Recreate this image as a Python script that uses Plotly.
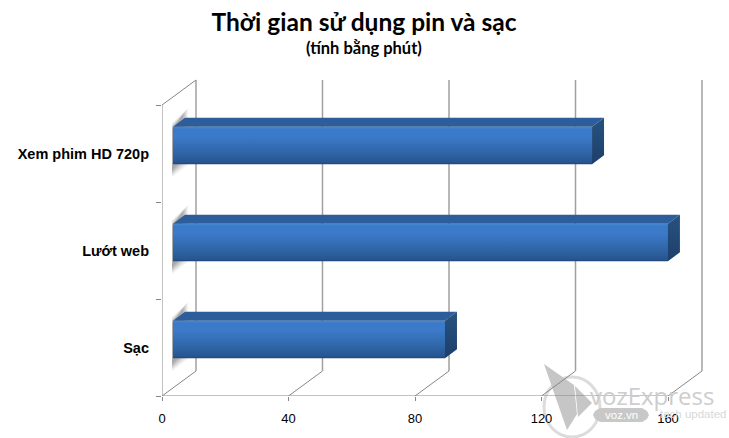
import plotly.graph_objects as go

categories = ["Sạc", "Lướt web", "Xem phim HD 720p"]
values = [86, 156.5, 132.5]
x_ticks = [0, 40, 80, 120, 160]

TITLE = "Thời gian sử dụng pin và sạc"
SUBTITLE = "(tính bằng phút)"

# frame in pixels
W, H = 729, 438
L, R, T, B = 162, 668, 105, 396
R_AREA, T_AREA = 729, 60  # plot area is larger than the frame so the 3D depth fits inside it
PX_X = (R - L) / 160
PX_Y = (B - T) / 3
GRID = "#a0a0a0"
AXIS = "#868686"


def ux(px):
    return px / PX_X


def uy(px):
    return px / PX_Y


def sx(px):
    return (px - L) / (R_AREA - L)


def sy(px):
    return (B - px) / (B - T_AREA)


WALL_DX, WALL_DY = ux(34), uy(25)
FRONT_DX, FRONT_DY = ux(11), uy(8)
TOP_DX, TOP_DY = ux(12), uy(9)
BAR_H = uy(37.5)
y_pos = list(range(len(categories)))
y_lo, y_hi = -0.5, len(categories) - 0.5

fig = go.Figure()


def line(xs, ys, color=GRID, width=1.5):
    fig.add_trace(go.Scatter(x=xs, y=ys, mode="lines", hoverinfo="skip", showlegend=False,
                             line=dict(color=color, width=width)))


# walls, floor and back grid
for t in x_ticks:
    line([t, t + WALL_DX], [y_lo, y_lo + WALL_DY], AXIS, 1)
    line([t + WALL_DX] * 2, [y_lo + WALL_DY, y_hi + WALL_DY])
line([0, WALL_DX], [y_hi, y_hi + WALL_DY], AXIS, 1)
line([0, 0], [y_lo, y_hi], AXIS, 1)
line([0, x_ticks[-1]], [y_lo, y_lo], AXIS, 1)

# blurred shadows of the bars on the left wall
for yp in y_pos:
    c = yp + FRONT_DY
    top, bot = c + BAR_H / 2, c - BAR_H / 2
    x0 = ux(10)
    for grow, alpha in [(4, 0.05), (3, 0.06), (2, 0.07), (1, 0.08), (0, 0.09), (-1, 0.10), (-2, 0.10), (-3, 0.10)]:
        g = uy(grow)
        x1 = ux(23 + grow * 0.8)
        fig.add_trace(go.Scatter(
            x=[x0, x1, x1, x0, x0],
            y=[top + g, top + uy(15) + g, bot + uy(3) - g, bot - uy(9) - g, top + g],
            mode="lines", fill="toself", fillcolor=f"rgba(90,90,90,{alpha})",
            line=dict(width=0), hoverinfo="skip", showlegend=False))

# bars on an overlaid axis pair, so they sit above the wall lines
fig.add_trace(go.Bar(
    y=[p + FRONT_DY for p in y_pos], x=values, base=[FRONT_DX] * len(values),
    orientation="h", width=BAR_H, xaxis="x2", yaxis="y2",
    marker=dict(color="#3470b8", line=dict(width=0)), showlegend=False,
    hovertemplate="%{x}<extra></extra>"))


def poly(xs, ys, color=None, gradient=None):
    fig.add_trace(go.Scatter(
        x=xs + xs[:1], y=ys + ys[:1], mode="lines", fill="toself", xaxis="x2", yaxis="y2",
        fillcolor=color, fillgradient=gradient,
        line=dict(width=0, color="rgba(0,0,0,0)"),
        hoverinfo="skip", showlegend=False))


front_grad = dict(type="vertical", colorscale=[[0, "#1f4474"], [0.05, "#27558f"], [0.3, "#2f65a6"],
                                                [0.75, "#3c7aca"], [0.93, "#3b79c9"], [1, "#4a86d2"]])
side_grad = dict(type="vertical", colorscale=[[0, "#1d3f6b"], [1, "#27537f"]])

for yp, v in zip(y_pos, values):
    left = FRONT_DX
    right = FRONT_DX + v
    top = yp + FRONT_DY + BAR_H / 2
    bot = yp + FRONT_DY - BAR_H / 2
    poly([left, right, right, left], [bot, bot, top, top], gradient=front_grad)
    poly([left, left + TOP_DX, right + TOP_DX, right], [top, top + TOP_DY, top + TOP_DY, top],
         color="#2d5e9b")
    poly([right, right + TOP_DX, right + TOP_DX, right], [bot, bot + TOP_DY, top + TOP_DY, top],
         gradient=side_grad)

axis_common = dict(showgrid=False, zeroline=False, showline=False)


def note(text, px, py, family, size, color):
    return dict(text=text, x=sx(px), y=sy(py), xref="paper", yref="paper", showarrow=False,
                xanchor="center", yanchor="middle", font=dict(family=family, size=size, color=color))


annotations = [note(f"<b>{SUBTITLE}</b>", 364, 48, "Lato", 16.5, "black")]


# watermark
def path(points):
    return "M " + " L ".join(f"{sx(a):.4f} {sy(b):.4f}" for a, b in points) + " Z"


def wm_poly(points, color):
    return dict(type="path", xref="paper", yref="paper", layer="below", line=dict(width=0),
                fillcolor=color, path=path(points))


shapes = [
    dict(type="circle", xref="paper", yref="paper", layer="below",
         x0=sx(544), x1=sx(600), y0=sy(377), y1=sy(437),
         line=dict(color="#dcdcdc", width=3)),
    wm_poly([(544, 364), (574, 385), (577, 414), (567, 430)], "#c6c6c6"),
    wm_poly([(575, 386), (592, 403), (578, 417)], "#c6c6c6"),
    wm_poly([(600, 408), (642, 408), (647, 411), (649, 415), (647, 419), (642, 422),
             (600, 422), (595, 419), (593, 415), (595, 411)], "#c8c8c8"),
]
annotations += [
    note("vozExpress", 652, 395, "Open Sans", 24, "#cdcdcd"),
    note("voz.vn", 621, 415, "Liberation Sans", 11.5, "white"),
    note("tech updated", 693, 413.5, "Liberation Sans", 11.5, "#d8d8d8"),
]

fig.update_layout(
    width=W, height=H, margin=dict(l=L, r=W - R_AREA, t=T_AREA, b=H - B, autoexpand=False),
    paper_bgcolor="white", plot_bgcolor="rgba(0,0,0,0)", showlegend=False, bargap=0,
    title=dict(text=f"<b>{TITLE}</b>", x=364 / W, xanchor="center", y=1 - 22 / H, yanchor="middle",
               font=dict(family="Lato", size=24.5, color="black")),
    xaxis=dict(range=[0, ux(R_AREA - L)], tickmode="array", tickvals=x_ticks, ticks="outside", ticklen=4,
               tickcolor=AXIS, tickfont=dict(family="Liberation Sans", size=13, color="black"),
               ticklabelstandoff=6, **axis_common),
    yaxis=dict(range=[y_lo, y_lo + uy(B - T_AREA)], tickmode="array", tickvals=y_pos, ticktext=categories,
               ticks="", tickfont=dict(family="Liberation Sans", size=14.5, color="black", weight="bold"),
               ticklabelstandoff=12,
               minor=dict(tickmode="array", tickvals=[-0.5, 0.5, 1.5, 2.5], ticks="outside", ticklen=5,
                          tickcolor=AXIS), **axis_common),
    xaxis2=dict(range=[0, ux(R_AREA - L)], overlaying="x", visible=False),
    yaxis2=dict(range=[y_lo, y_lo + uy(B - T_AREA)], overlaying="y", visible=False),
    shapes=shapes, annotations=annotations,
)

fig.write_html("out.html", config=dict(displayModeBar=False),
               post_script="document.body.style.margin='0';")
